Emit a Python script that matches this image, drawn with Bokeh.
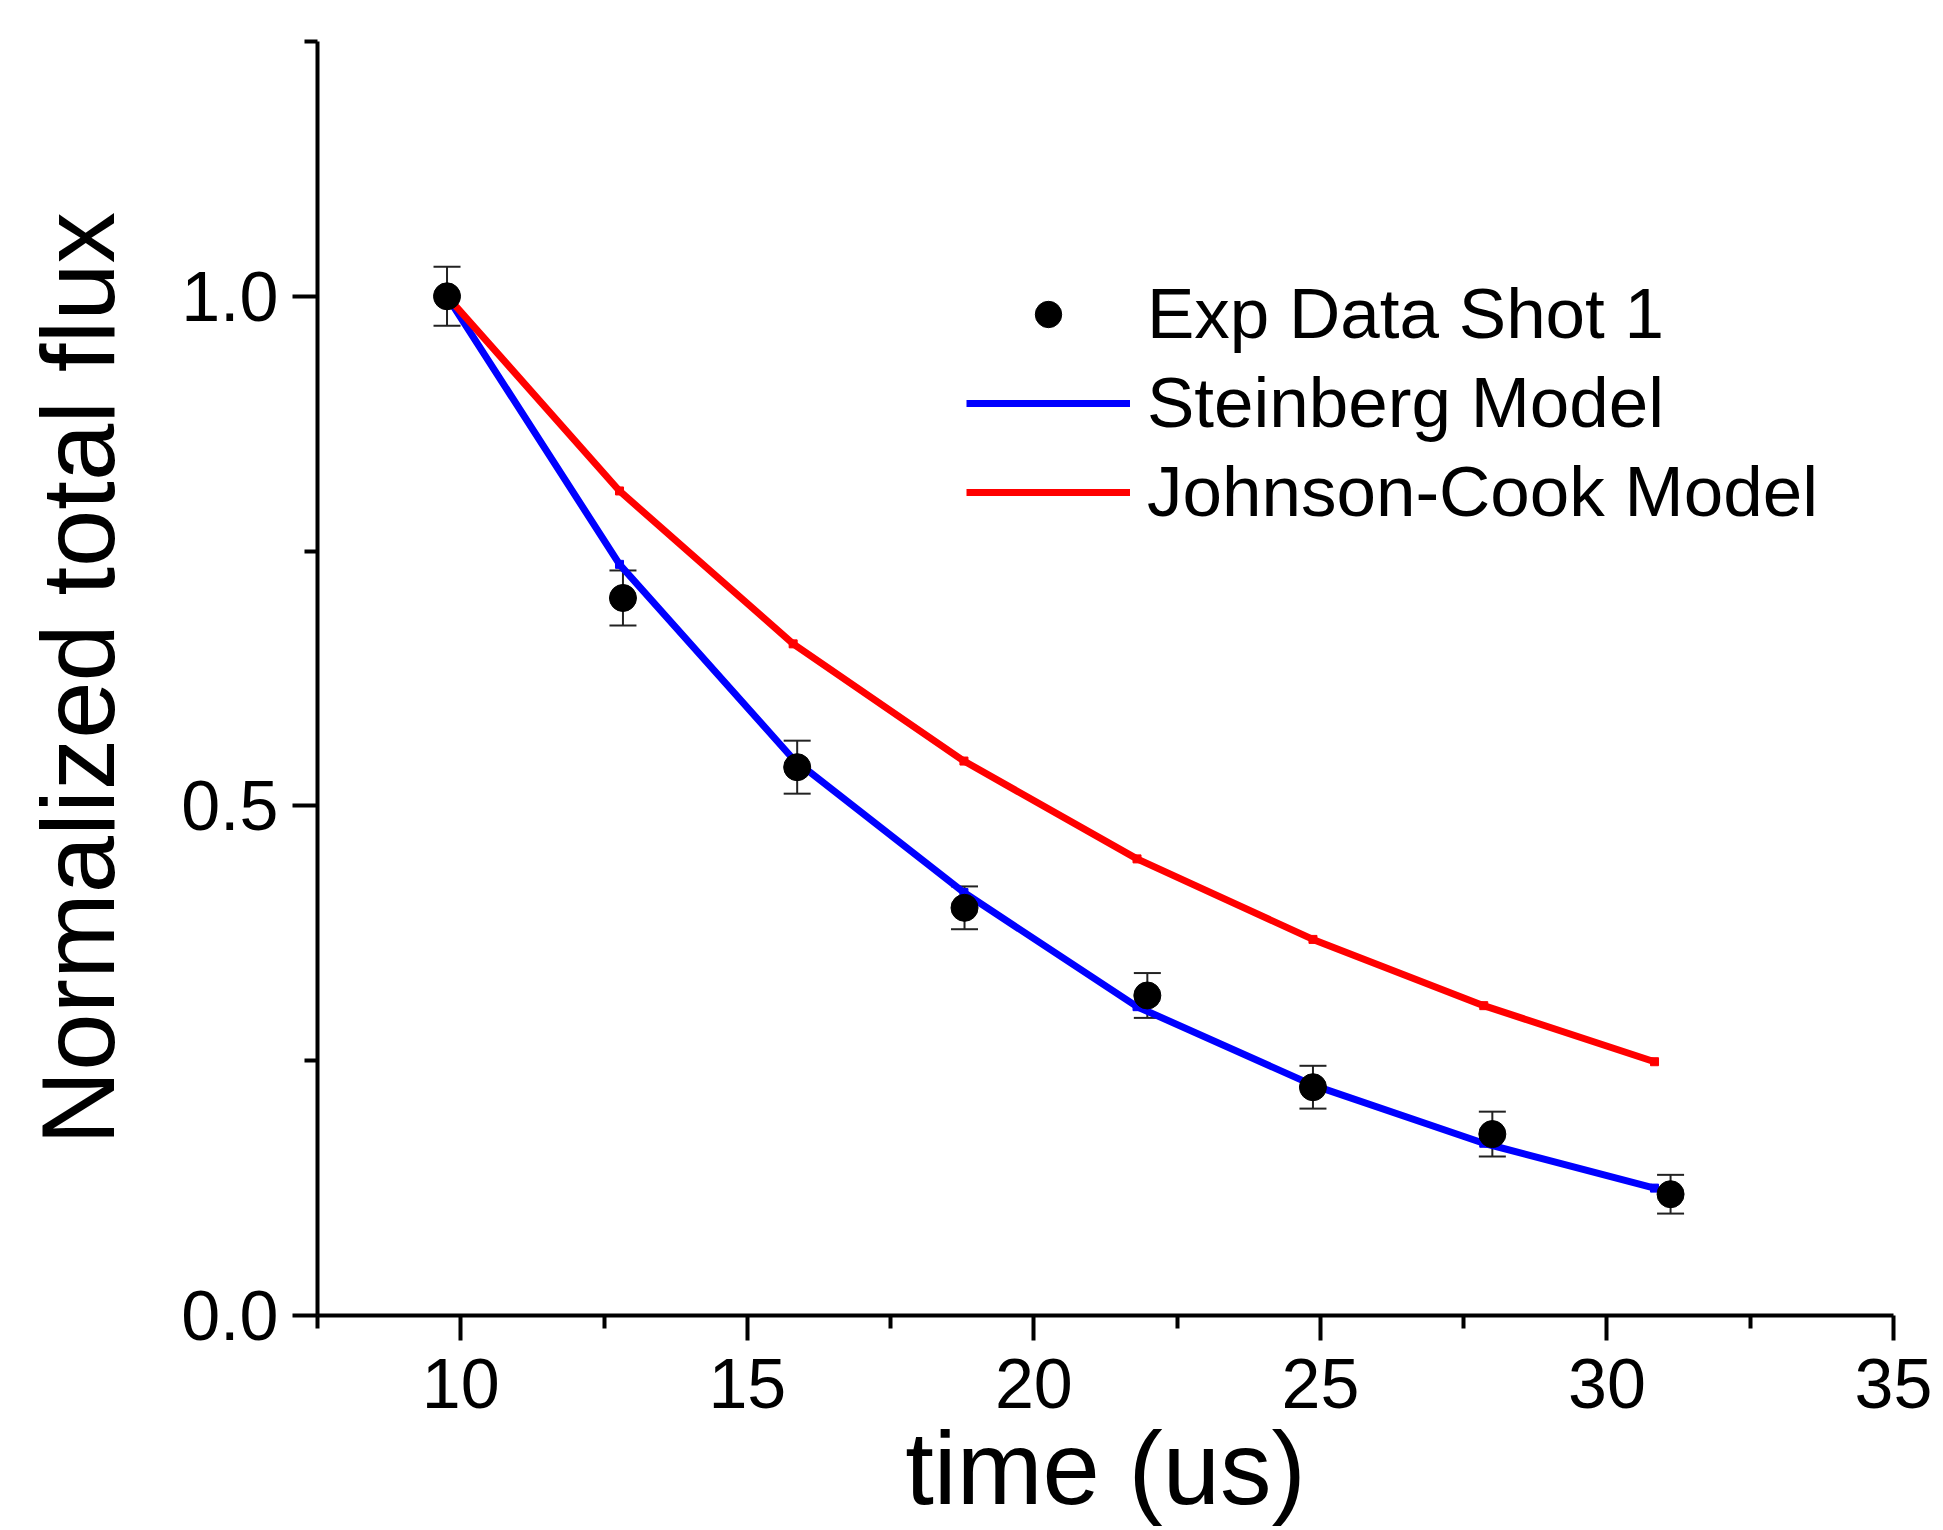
from bokeh.plotting import figure
from bokeh.models import (ColumnDataSource, Whisker, Legend, LegendItem, FixedTicker,
                          PrintfTickFormatter, Range1d)
from bokeh.embed import file_html
from bokeh.resources import INLINE

# ---- data ----
x_exp = [9.76, 12.83, 15.87, 18.79, 21.98, 24.87, 28.0, 31.11]
y_exp = [1.0, 0.704, 0.538, 0.400, 0.314, 0.224, 0.178, 0.119]
err_exp = [0.029, 0.027, 0.026, 0.021, 0.022, 0.021, 0.022, 0.019]

x_model = [9.76, 12.77, 15.8, 18.78, 21.8, 24.87, 27.85, 30.83]
y_steinberg = [1.0, 0.737, 0.546, 0.415, 0.303, 0.226, 0.169, 0.125]
y_johnson_cook = [1.0, 0.809, 0.659, 0.544, 0.448, 0.369, 0.304, 0.249]

x_major = [10, 15, 20, 25, 30, 35]
x_minor = [7.5, 12.5, 17.5, 22.5, 27.5, 32.5]
y_major = [0.0, 0.5, 1.0]
y_minor = [0.25, 0.75, 1.25]

FONT = "Liberation Sans"

p = figure(width=1935, height=1530, output_backend="svg", toolbar_location=None,
           x_range=Range1d(7.5, 35), y_range=Range1d(0, 1.25),
           min_border_left=317, min_border_right=42, min_border_top=41, min_border_bottom=215)
p.grid.visible = False
p.outline_line_color = None
p.background_fill_color = "white"

for ax in (p.xaxis[0], p.yaxis[0]):
    ax.axis_line_width = 4
    ax.axis_line_color = "black"
    ax.major_tick_line_width = 4
    ax.minor_tick_line_width = 4
    ax.major_tick_line_color = "black"
    ax.minor_tick_line_color = "black"
    ax.major_tick_out = 25
    ax.major_tick_in = 0
    ax.minor_tick_out = 13
    ax.minor_tick_in = 0
    ax.major_label_text_font = FONT
    ax.major_label_text_font_size = "70px"
    ax.major_label_text_color = "black"
    ax.axis_label_text_font = FONT
    ax.axis_label_text_font_size = "103px"
    ax.axis_label_text_font_style = "normal"
    ax.axis_label_text_color = "black"

p.xaxis.ticker = FixedTicker(ticks=x_major, minor_ticks=x_minor)
p.yaxis.ticker = FixedTicker(ticks=y_major, minor_ticks=y_minor)
p.yaxis.formatter = PrintfTickFormatter(format="%.1f")
p.xaxis.axis_label = "time (us)"
p.yaxis.axis_label = "Normalized total flux"
p.xaxis.major_label_standoff = 18
p.yaxis.major_label_standoff = 14
p.xaxis.axis_label_standoff = 0
p.yaxis.axis_label_standoff = 42

# model lines
src_m = ColumnDataSource(dict(x=x_model, s=y_steinberg, j=y_johnson_cook))
l_s = p.line("x", "s", source=src_m, line_color="#0000FF", line_width=7)
m_s = p.scatter("x", "s", source=src_m, marker="square", size=8, color="#0000FF")
l_j = p.line("x", "j", source=src_m, line_color="#FF0000", line_width=7)
m_j = p.scatter("x", "j", source=src_m, marker="square", size=8, color="#FF0000")

# experimental data with error bars
src_e = ColumnDataSource(dict(x=x_exp, y=y_exp,
                              lo=[y - e for y, e in zip(y_exp, err_exp)],
                              hi=[y + e for y, e in zip(y_exp, err_exp)]))
wh = Whisker(source=src_e, base="x", lower="lo", upper="hi", line_color="#222222", line_width=2)
for head in (wh.upper_head, wh.lower_head):
    head.size = 27
    head.line_width = 2
    head.line_color = "#222222"
p.add_layout(wh)
e_r = p.scatter("x", "y", source=src_e, marker="circle", size=27, color="black")

legend = Legend(items=[
    LegendItem(label="Exp Data Shot 1", renderers=[e_r]),
    LegendItem(label="Steinberg Model", renderers=[l_s]),
    LegendItem(label="Johnson-Cook Model", renderers=[l_j]),
], location=(649, 783))
legend.label_text_font = FONT
legend.label_text_font_size = "71px"
legend.label_text_color = "black"
legend.glyph_width = 164
legend.glyph_height = 66
legend.label_standoff = 17
legend.spacing = 8
legend.padding = 0
legend.margin = 0
legend.border_line_alpha = 0
legend.background_fill_alpha = 0
p.add_layout(legend)

open("out.html", "w").write(file_html(p, INLINE))
